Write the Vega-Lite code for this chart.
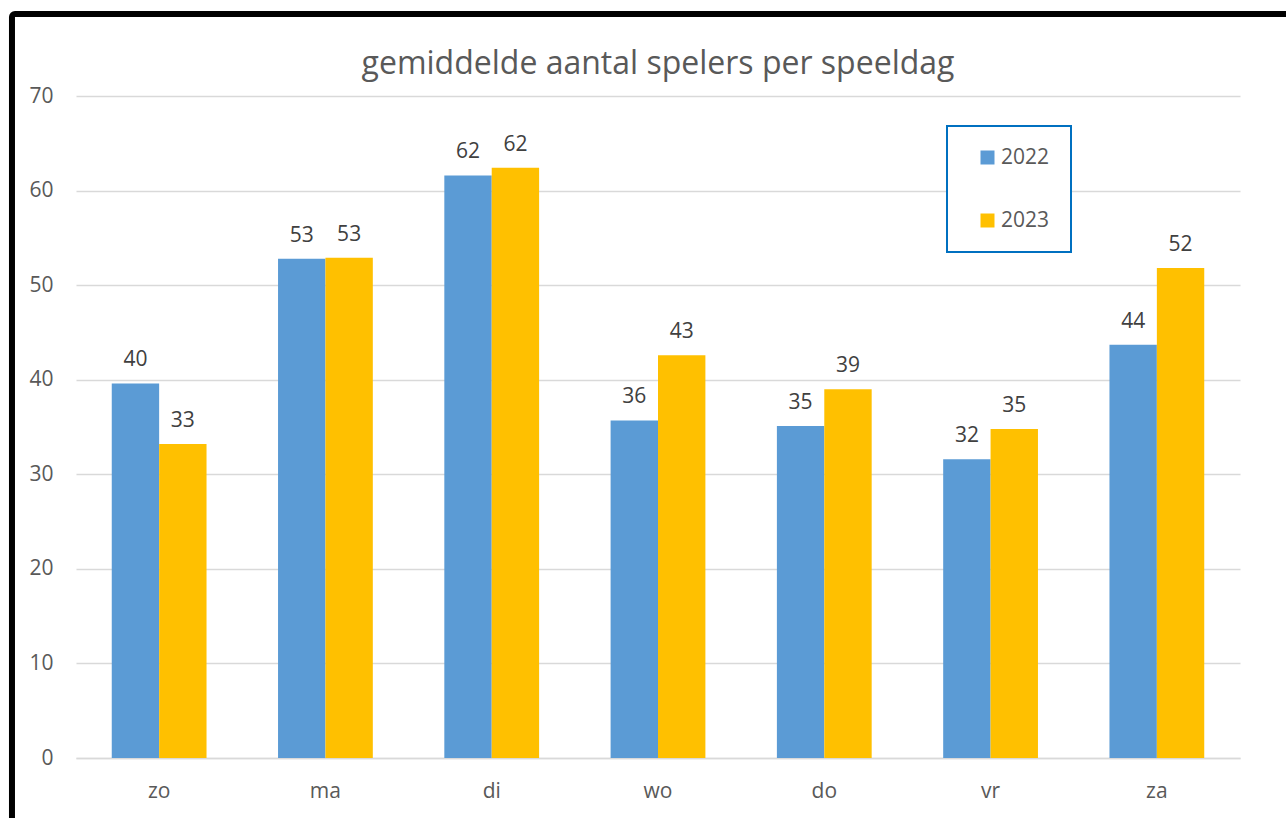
{
  "$schema": "https://vega.github.io/schema/vega-lite/v6.json",
  "width": 1164,
  "height": 662,
  "autosize": {"type": "none"},
  "padding": {"left": 76, "top": 96, "right": 46, "bottom": 60},
  "background": "white",
  "config": {
    "view": {"stroke": null},
    "font": "Open Sans",
    "axis": {"labelFont": "Open Sans", "labelColor": "#595959", "labelFontSize": 21},
    "legend": {"labelFont": "Open Sans", "labelColor": "#595959", "labelFontSize": 21, "strokeWidth": 2}
  },
  "title": {
    "text": "gemiddelde aantal spelers per speeldag",
    "fontSize": 32,
    "font": "Open Sans",
    "fontWeight": "normal",
    "color": "#595959",
    "anchor": "middle",
    "baseline": "alphabetic",
    "offset": -95
  },
  "layer": [
    {
      "data": {
        "values": [
          {"dag": "zo", "jaar": "2022", "spelers": 39.6},
          {"dag": "zo", "jaar": "2023", "spelers": 33.2},
          {"dag": "ma", "jaar": "2022", "spelers": 52.8},
          {"dag": "ma", "jaar": "2023", "spelers": 52.9},
          {"dag": "di", "jaar": "2022", "spelers": 61.6},
          {"dag": "di", "jaar": "2023", "spelers": 62.4},
          {"dag": "wo", "jaar": "2022", "spelers": 35.7},
          {"dag": "wo", "jaar": "2023", "spelers": 42.6},
          {"dag": "do", "jaar": "2022", "spelers": 35.1},
          {"dag": "do", "jaar": "2023", "spelers": 39.0},
          {"dag": "vr", "jaar": "2022", "spelers": 31.6},
          {"dag": "vr", "jaar": "2023", "spelers": 34.8},
          {"dag": "za", "jaar": "2022", "spelers": 43.7},
          {"dag": "za", "jaar": "2023", "spelers": 51.8}
        ]
      },
      "encoding": {
        "x": {
          "field": "dag",
          "type": "nominal",
          "sort": ["zo", "ma", "di", "wo", "do", "vr", "za"],
          "scale": {"paddingInner": 0.43, "paddingOuter": 0.215},
          "axis": {
            "title": null,
            "labelAngle": 0,
            "ticks": false,
            "domainColor": "#D9D9D9",
            "domainWidth": 1.5,
            "labelPadding": 22
          }
        },
        "xOffset": {"field": "jaar", "type": "nominal"},
        "y": {
          "field": "spelers",
          "type": "quantitative",
          "scale": {"domain": [0, 70], "nice": false},
          "axis": {
            "title": null,
            "values": [0, 10, 20, 30, 40, 50, 60, 70],
            "ticks": false,
            "domain": false,
            "gridColor": "#D9D9D9",
            "gridWidth": 1.5,
            "labelPadding": 23
          }
        }
      },
      "layer": [
        {
          "mark": {"type": "bar"},
          "encoding": {
            "color": {
              "field": "jaar",
              "type": "nominal",
              "scale": {"domain": ["2022", "2023"], "range": ["#5B9BD5", "#FFC000"]},
              "legend": {
                "title": null,
                "orient": "none",
                "legendX": 871,
                "legendY": 30,
                "symbolType": "square",
                "symbolSize": 196,
                "symbolStrokeWidth": 0,
                "symbolOffset": 9,
                "labelOffset": 3,
                "labelExpr": "datum.label + '  '",
                "padding": 21,
                "rowPadding": 41,
                "strokeColor": "#0070C0",
                "fillColor": "white"
              }
            }
          }
        },
        {
          "mark": {"type": "text", "baseline": "alphabetic", "dy": -17, "fontSize": 21, "color": "#404040", "font": "Open Sans"},
          "encoding": {
            "text": {"field": "spelers", "type": "quantitative", "format": ".0f"}
          }
        }
      ]
    },
    {
      "data": {"values": [{"frame": "kader"}]},
      "mark": {"type": "rect", "fill": null, "stroke": "black", "strokeWidth": 6, "cornerRadius": 3},
      "encoding": {
        "x": {"datum": -55, "type": "quantitative", "scale": {"domain": [0, 1000], "nice": false, "zero": false}, "axis": null},
        "x2": {"datum": 1200},
        "y": {"datum": 1124, "type": "quantitative", "scale": {"domain": [0, 1000], "nice": false, "zero": false}, "axis": null},
        "y2": {"datum": -200}
      }
    }
  ],
  "resolve": {"scale": {"x": "independent", "y": "independent"}}
}
